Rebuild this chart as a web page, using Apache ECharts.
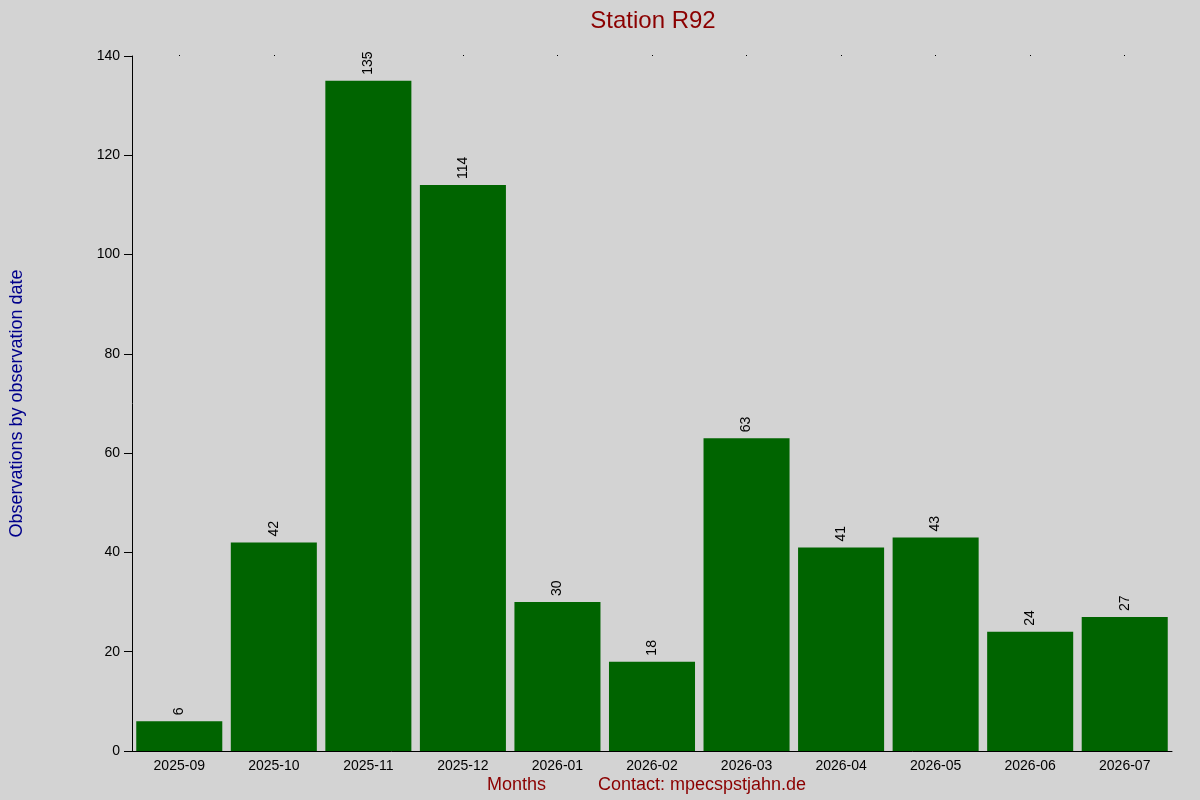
<!DOCTYPE html>
<html><head><meta charset="utf-8">
<script src="https://cdn.jsdelivr.net/npm/echarts@6/dist/echarts.min.js"></script>
<style>html,body{margin:0;padding:0;background:#d3d3d3}#c{width:1200px;height:800px}</style>
</head><body><div id="c"></div>
<script>
const categories = ['2025-09','2025-10','2025-11','2025-12','2026-01','2026-02','2026-03','2026-04','2026-05','2026-06','2026-07'];
const values = [6,42,135,114,30,18,63,41,43,24,27];
const yTicks = [0,20,40,60,80,100,120,140];
const chart = echarts.init(document.getElementById('c'));
chart.setOption({
  backgroundColor:'#d3d3d3',
  animation:false,
  title:{text:'Station R92',left:648,top:4,textAlign:'center',textStyle:{color:'#8b0000',fontSize:24,fontWeight:'normal',fontFamily:'Liberation Sans'}},
  graphic:[
    {type:'text',left:487,top:776,style:{text:'Months',fill:'#8b0000',font:'18px Liberation Sans'}},
    {type:'text',left:598,top:776,style:{text:'Contact: mpecspstjahn.de',fill:'#8b0000',font:'18px Liberation Sans'}}
  ],
  grid:{left:126,right:28,top:56,bottom:49},
  xAxis:[{type:'category',data:categories,
    axisLine:{lineStyle:{color:'#000'}},axisTick:{show:false},
    axisLabel:{color:'#000',fontSize:14,fontFamily:'Liberation Sans',margin:8}},
    {type:'category',data:categories,position:'top',axisLine:{show:false},
     axisTick:{show:true,alignWithLabel:true,length:1,lineStyle:{color:'#000'}},axisLabel:{show:false}}],
  yAxis:{type:'value',min:yTicks[0],max:yTicks[yTicks.length-1],interval:20,
    name:'Observations by observation date',nameLocation:'middle',nameGap:106,
    nameTextStyle:{color:'#00008b',fontSize:18,fontFamily:'Liberation Sans'},
    axisLine:{show:true,lineStyle:{color:'#000'}},axisTick:{show:true,length:8,lineStyle:{color:'#000'}},
    axisLabel:{color:'#000',fontSize:14,fontFamily:'Liberation Sans',margin:12},
    splitLine:{show:false}},
  series:[{type:'bar',data:values,barCategoryGap:'9%',itemStyle:{color:'#006400'},
    label:{show:true,position:'top',rotate:90,align:'left',verticalAlign:'middle',distance:6,color:'#000',fontSize:14,fontFamily:'Liberation Sans'}}]
});
</script></body></html>
